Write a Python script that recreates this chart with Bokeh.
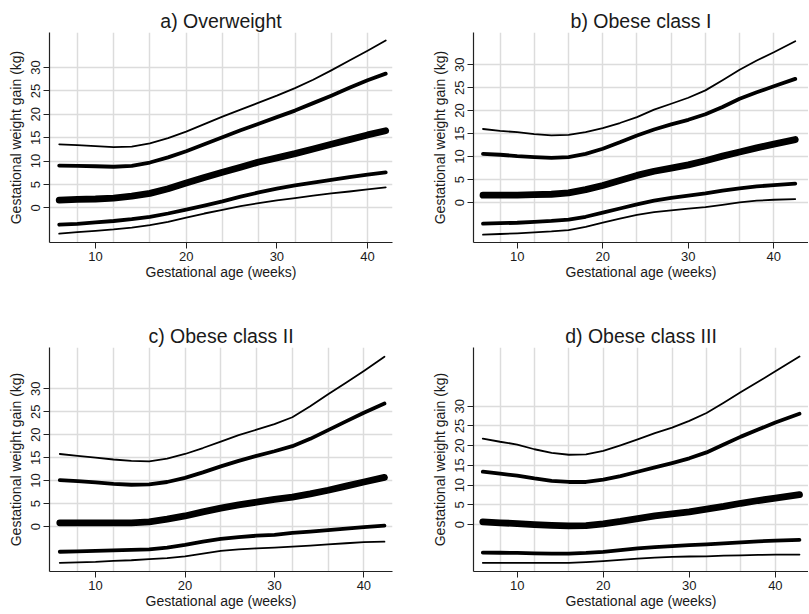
from bokeh.plotting import figure
from bokeh.models import Range1d, FixedTicker
from bokeh.layouts import column, row
from bokeh.embed import file_html
from bokeh.resources import INLINE

FONT = "Liberation Sans"

TITLES = ["a) Overweight", "b) Obese class I", "c) Obese class II", "d) Obese class III"]
X_LABEL = "Gestational age (weeks)"
Y_LABEL = "Gestational weight gain (kg)"
X_TICKS = [10, 20, 30, 40]
X_GRID = [8, 12, 16, 20, 24, 28, 32, 36, 40]
Y_TICKS = [0, 5, 10, 15, 20, 25, 30]

# ---- a) Overweight ----
WEEKS_A = [6, 8, 10, 12, 14, 16, 18, 20, 22, 24, 26, 28, 30, 32, 34, 36, 38, 40, 42]
A_P97 = [13.6, 13.4, 13.2, 13.0, 13.1, 13.8, 14.9, 16.3, 17.9, 19.5, 21.0, 22.5, 24.0, 25.6, 27.4, 29.4, 31.5, 33.6, 35.8]
A_P90 = [9.05, 9.0, 8.9, 8.8, 9.0, 9.7, 10.8, 12.1, 13.6, 15.1, 16.6, 18.0, 19.4, 20.8, 22.4, 24.0, 25.7, 27.3, 28.7]
A_P50 = [1.65, 1.8, 1.9, 2.1, 2.5, 3.1, 4.1, 5.3, 6.5, 7.6, 8.7, 9.8, 10.7, 11.6, 12.6, 13.6, 14.6, 15.6, 16.5]
A_P10 = [-3.6, -3.4, -3.1, -2.8, -2.4, -1.9, -1.2, -0.35, 0.5, 1.4, 2.4, 3.3, 4.1, 4.8, 5.4, 6.0, 6.6, 7.1, 7.6]
A_P03 = [-5.5, -5.2, -4.9, -4.6, -4.2, -3.7, -3.0, -2.1, -1.2, -0.4, 0.4, 1.0, 1.6, 2.1, 2.6, 3.1, 3.5, 3.95, 4.4]

# ---- b) Obese class I ----
WEEKS_B = [6, 8, 10, 12, 14, 16, 18, 20, 22, 24, 26, 28, 30, 32, 34, 36, 38, 40, 42.5]
B_P97 = [16.0, 15.6, 15.3, 14.9, 14.6, 14.7, 15.3, 16.2, 17.3, 18.6, 20.2, 21.5, 22.8, 24.4, 26.6, 28.9, 30.9, 32.7, 35.1]
B_P90 = [10.6, 10.4, 10.1, 9.9, 9.7, 9.9, 10.6, 11.7, 13.1, 14.6, 15.9, 17.0, 18.0, 19.2, 20.8, 22.6, 24.0, 25.3, 26.9]
B_P50 = [1.6, 1.6, 1.6, 1.7, 1.8, 2.1, 2.8, 3.7, 4.8, 5.9, 6.8, 7.5, 8.2, 9.1, 10.1, 11.0, 11.9, 12.7, 13.7]
B_P10 = [-4.6, -4.5, -4.4, -4.2, -4.0, -3.7, -3.1, -2.2, -1.3, -0.4, 0.4, 1.0, 1.5, 2.0, 2.6, 3.1, 3.5, 3.8, 4.1]
B_P03 = [-7.0, -6.85, -6.7, -6.5, -6.3, -6.0, -5.3, -4.4, -3.5, -2.7, -2.1, -1.7, -1.35, -1.0, -0.5, 0.05, 0.4, 0.6, 0.75]

# ---- c) Obese class II ----
WEEKS_C = [6, 8, 10, 12, 14, 16, 18, 20, 22, 24, 26, 28, 30, 32, 34, 36, 38, 40, 42.3]
C_P97 = [15.8, 15.4, 15.0, 14.6, 14.3, 14.2, 14.8, 15.8, 17.1, 18.5, 19.9, 21.1, 22.3, 23.8, 26.2, 28.8, 31.3, 33.9, 37.0]
C_P90 = [10.1, 9.9, 9.6, 9.3, 9.1, 9.2, 9.7, 10.6, 11.8, 13.1, 14.3, 15.4, 16.4, 17.5, 19.1, 21.0, 22.9, 24.8, 26.8]
C_P50 = [0.8, 0.8, 0.8, 0.8, 0.8, 1.0, 1.6, 2.3, 3.2, 4.0, 4.7, 5.3, 5.9, 6.4, 7.1, 7.9, 8.8, 9.7, 10.7]
C_P10 = [-5.5, -5.4, -5.3, -5.2, -5.1, -5.0, -4.6, -4.0, -3.3, -2.7, -2.3, -2.0, -1.8, -1.4, -1.1, -0.8, -0.45, -0.15, 0.2]
C_P03 = [-7.9, -7.8, -7.7, -7.5, -7.35, -7.1, -6.9, -6.5, -5.9, -5.3, -5.0, -4.75, -4.6, -4.4, -4.15, -3.9, -3.65, -3.4, -3.3]

# ---- d) Obese class III ----
WEEKS_D = [6, 8, 10, 12, 14, 16, 18, 20, 22, 24, 26, 28, 30, 32, 34, 36, 38, 40, 42.8]
D_P97 = [21.8, 21.0, 20.3, 19.1, 18.2, 17.7, 17.8, 18.7, 20.1, 21.6, 23.2, 24.6, 26.3, 28.3, 30.9, 33.6, 36.2, 38.9, 42.6]
D_P90 = [13.4, 12.9, 12.4, 11.7, 11.1, 10.8, 10.8, 11.4, 12.3, 13.4, 14.5, 15.6, 16.8, 18.3, 20.3, 22.3, 24.1, 25.9, 28.1]
D_P50 = [0.7, 0.45, 0.25, 0.0, -0.2, -0.35, -0.25, 0.2, 0.8, 1.5, 2.2, 2.7, 3.2, 3.9, 4.6, 5.4, 6.1, 6.7, 7.6]
D_P10 = [-7.1, -7.15, -7.2, -7.3, -7.35, -7.35, -7.2, -6.9, -6.5, -6.05, -5.7, -5.45, -5.2, -5.0, -4.75, -4.5, -4.25, -4.05, -3.9]
D_P03 = [-9.7, -9.7, -9.7, -9.7, -9.7, -9.7, -9.5, -9.25, -8.95, -8.65, -8.4, -8.2, -8.1, -8.05, -7.9, -7.8, -7.7, -7.6, -7.6]

LINE_WIDTHS = [1.8, 3.8, 6.8, 3.8, 1.8]  # p97, p90, p50, p10, p3


def make_panel(title, weeks, series, xr, yr, width, height, bl, br, bt, bb):
    p = figure(width=width, height=height, output_backend="svg", toolbar_location=None,
               x_range=Range1d(*xr), y_range=Range1d(*yr),
               min_border_left=bl, min_border_right=br, min_border_top=bt, min_border_bottom=bb)
    p.background_fill_color = "white"
    p.border_fill_color = "white"
    p.outline_line_color = None

    p.title.text = title
    p.title.align = "center"
    p.title.text_font = FONT
    p.title.text_font_size = "19.5px"
    p.title.text_font_style = "normal"
    p.title.text_color = "#1a1a1a"
    p.title.standoff = 2

    p.xaxis.ticker = FixedTicker(ticks=X_TICKS)
    p.yaxis.ticker = FixedTicker(ticks=Y_TICKS)
    p.xgrid.ticker = FixedTicker(ticks=X_GRID)
    p.grid.grid_line_color = "#dcdcdc"
    p.grid.grid_line_width = 1.5

    p.xaxis.axis_label = X_LABEL
    p.yaxis.axis_label = Y_LABEL
    p.axis.axis_label_text_font = FONT
    p.axis.axis_label_text_font_size = "14px"
    p.axis.axis_label_text_font_style = "normal"
    p.axis.axis_label_text_color = "#1a1a1a"
    p.axis.major_label_text_font = FONT
    p.axis.major_label_text_font_size = "13px"
    p.axis.major_label_text_color = "#1a1a1a"
    p.axis.axis_line_color = "#222222"
    p.axis.axis_line_width = 1.2
    p.axis.major_tick_line_color = "#222222"
    p.axis.major_tick_out = 6
    p.axis.major_tick_in = 0
    p.axis.minor_tick_line_color = None
    p.axis.major_label_standoff = 3
    p.xaxis.axis_label_standoff = 0
    p.yaxis.axis_label_standoff = 5
    p.yaxis.major_label_orientation = "vertical"

    for vals, lw in zip(series, LINE_WIDTHS):
        p.line(weeks, vals, line_width=lw, line_color="black", line_cap="round", line_join="round")
    return p


pa = make_panel(TITLES[0], WEEKS_A, [A_P97, A_P90, A_P50, A_P10, A_P03],
                (4.93, 42.75), (-7.4, 37.5), 404, 305, 49, 12, 32, 63)
pb = make_panel(TITLES[1], WEEKS_B, [B_P97, B_P90, B_P50, B_P10, B_P03],
                (4.89, 44.05), (-8.7, 37.0), 404, 305, 69, 0, 32, 63)
pc = make_panel(TITLES[2], WEEKS_C, [C_P97, C_P90, C_P50, C_P10, C_P03],
                (4.85, 43.2), (-9.8, 39.0), 404, 306, 49, 12, 42, 38)
pd_ = make_panel(TITLES[3], WEEKS_D, [D_P97, D_P90, D_P50, D_P10, D_P03],
                 (4.92, 43.85), (-11.9, 44.9), 404, 306, 69, 0, 42, 38)

layout = column(row(pa, pb), row(pc, pd_))
open("out.html", "w").write(file_html(layout, INLINE))
